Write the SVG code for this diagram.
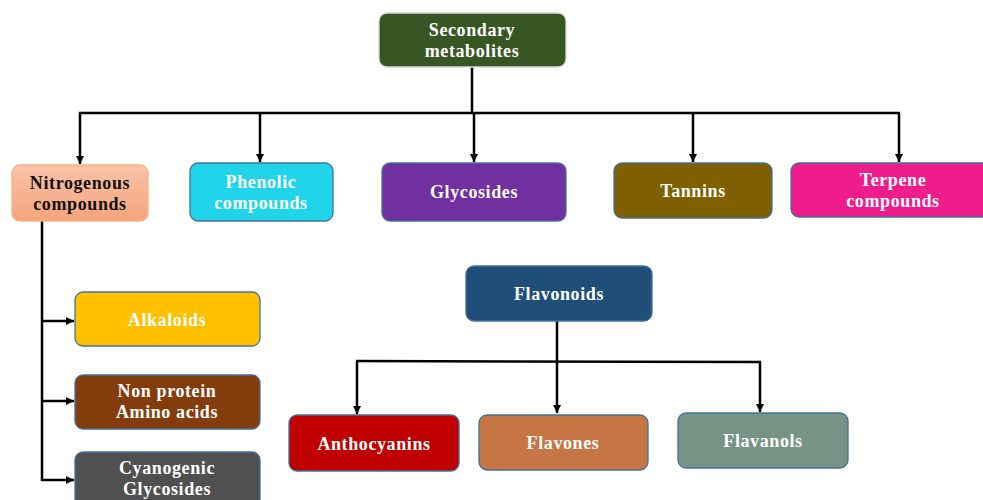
<svg xmlns="http://www.w3.org/2000/svg" width="983" height="500" viewBox="0 0 983 500">
<style>
.box{stroke:#41719C;stroke-width:1.3}
.t{font-family:"Liberation Serif","Times New Roman",serif;font-weight:bold;font-size:18px;letter-spacing:0.6px;fill:#FFFFFF;text-anchor:middle}
.dk{fill:#111111}
.ln{stroke:#000;stroke-width:2.5;fill:none}
</style>
<defs>
<linearGradient id="peach" x1="0" y1="0" x2="0" y2="1">
<stop offset="0" stop-color="#F9C3A8"/>
<stop offset="1" stop-color="#F4A47C"/>
</linearGradient>
<marker id="ah" markerWidth="10" markerHeight="10" refX="8" refY="4" orient="auto" markerUnits="userSpaceOnUse">
<path d="M0,0 L8,4 L0,8 Z" fill="#000"/>
</marker>
</defs>
<rect width="983" height="500" fill="#FFFFFF"/>
<g id="connectors">
<line class="ln" x1="472" y1="67" x2="472" y2="113"/>
<line class="ln" x1="79" y1="113" x2="900" y2="113"/>
<line class="ln" x1="80" y1="113" x2="80" y2="164" marker-end="url(#ah)"/>
<line class="ln" x1="260" y1="113" x2="260" y2="162" marker-end="url(#ah)"/>
<line class="ln" x1="474" y1="113" x2="474" y2="162" marker-end="url(#ah)"/>
<line class="ln" x1="693" y1="113" x2="693" y2="162" marker-end="url(#ah)"/>
<line class="ln" x1="899" y1="113" x2="899" y2="162" marker-end="url(#ah)"/>
<line class="ln" x1="42" y1="221" x2="42" y2="481"/>
<line class="ln" x1="42" y1="321" x2="74" y2="321" marker-end="url(#ah)"/>
<line class="ln" x1="42" y1="401" x2="74" y2="401" marker-end="url(#ah)"/>
<line class="ln" x1="42" y1="480" x2="74" y2="480" marker-end="url(#ah)"/>
<line class="ln" x1="557" y1="320" x2="557" y2="413" marker-end="url(#ah)"/>
<line class="ln" x1="356" y1="361" x2="761" y2="362"/>
<line class="ln" x1="357" y1="361" x2="357" y2="414" marker-end="url(#ah)"/>
<line class="ln" x1="760" y1="362" x2="760" y2="412" marker-end="url(#ah)"/>
</g>
<g id="n-secondary">
<rect x="379" y="13" width="187" height="54" rx="8" fill="#375623" stroke="#D9D9D9" stroke-width="1.3"/>
<text class="t" x="472" y="36">Secondary</text>
<text class="t" x="472" y="57">metabolites</text>
</g>
<g id="n-nitrogenous">
<rect x="12" y="165" width="136" height="56" rx="8" fill="url(#peach)" stroke="#F4B183" stroke-width="1.3"/>
<text class="t dk" x="80" y="189">Nitrogenous</text>
<text class="t dk" x="80" y="210">compounds</text>
</g>
<g id="n-phenolic">
<rect class="box" x="190" y="163" width="143" height="58" rx="8" fill="#20D5EA"/>
<text class="t" x="261" y="188">Phenolic</text>
<text class="t" x="261" y="209">compounds</text>
</g>
<g id="n-glycosides">
<rect class="box" x="382" y="163" width="184" height="58" rx="8" fill="#7030A0"/>
<text class="t" x="474" y="198">Glycosides</text>
</g>
<g id="n-tannins">
<rect class="box" x="614" y="163" width="158" height="55" rx="8" fill="#7F6000"/>
<text class="t" x="693" y="197">Tannins</text>
</g>
<g id="n-terpene">
<rect class="box" x="791" y="163" width="200" height="54" rx="8" fill="#EE1C8C"/>
<text class="t" x="893" y="186">Terpene</text>
<text class="t" x="893" y="207">compounds</text>
</g>
<g id="n-alkaloids">
<rect class="box" x="75" y="292" width="185" height="54" rx="8" fill="#FFC000"/>
<text class="t" x="167" y="326">Alkaloids</text>
</g>
<g id="n-nonprotein">
<rect class="box" x="75" y="375" width="185" height="54" rx="8" fill="#843C0C"/>
<text class="t" x="167" y="397">Non protein</text>
<text class="t" x="167" y="418">Amino acids</text>
</g>
<g id="n-cyanogenic">
<rect class="box" x="75" y="452" width="185" height="60" rx="8" fill="#505050"/>
<text class="t" x="167" y="474">Cyanogenic</text>
<text class="t" x="167" y="495">Glycosides</text>
</g>
<g id="n-flavonoids">
<rect class="box" x="466" y="266" width="186" height="55" rx="8" fill="#1F4E79"/>
<text class="t" x="559" y="300">Flavonoids</text>
</g>
<g id="n-anthocyanins">
<rect class="box" x="289" y="415" width="170" height="56" rx="8" fill="#C00000"/>
<text class="t" x="374" y="450">Anthocyanins</text>
</g>
<g id="n-flavones">
<rect class="box" x="479" y="415" width="169" height="55" rx="8" fill="#C67544"/>
<text class="t" x="563" y="449">Flavones</text>
</g>
<g id="n-flavanols">
<rect class="box" x="678" y="413" width="170" height="55" rx="8" fill="#779385"/>
<text class="t" x="763" y="447">Flavanols</text>
</g>
</svg>
